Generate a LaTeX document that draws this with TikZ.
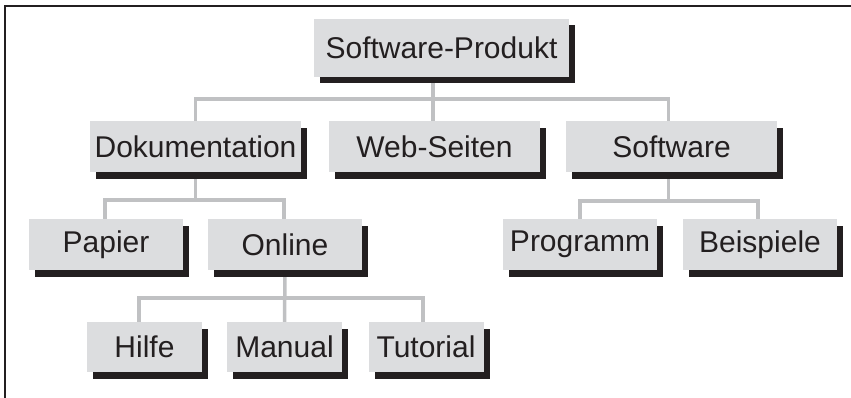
\documentclass[tikz,border=0pt]{standalone}
\usepackage{fontspec}
\setmainfont{Liberation Sans}
\usetikzlibrary{shadows,backgrounds,calc}
\definecolor{boxfill}{RGB}{220,221,223}
\definecolor{connc}{RGB}{192,193,195}
\definecolor{inkc}{RGB}{35,31,32}
\begin{document}
\begin{tikzpicture}[x=1pt,y=-1pt,
  tbox/.style={fill=boxfill, inner sep=0pt, text=inkc,
    font=\fontsize{30}{36}\selectfont,
    drop shadow={shadow xshift=6pt, shadow yshift=-6.5pt, fill=inkc, opacity=1}},
  lvA/.style={tbox, minimum width=211pt, minimum height=51pt},
  lvB/.style={tbox, minimum width=154pt, minimum height=51pt},
  lvC/.style={tbox, minimum width=115pt, minimum height=50pt},
  conn/.style={draw=connc, line width=3.5pt},
  frameline/.style={draw=inkc, line width=2pt}]
\useasboundingbox (0,0) rectangle (851,398);
\draw[frameline] (5,398) -- (5,6) -- (851,6);
\node[tbox, minimum width=255pt, minimum height=58pt] (sp) at (441.5,48) {Software-Produkt};
\node[lvA] (dok) at (195.5,147) {Dokumentation};
\node[lvA] (web) at (434.5,147) {Web-Seiten};
\node[lvA] (sw) at (671.5,147) {Software};
\node[lvB] (pap) at (106,244.5) {Papier};
\node[lvB] (onl) at (285,244.5) {Online};
\node[lvB] (prog) at (580,244.5) {Programm};
\node[lvB] (beis) at (760,244.5) {Beispiele};
\node[lvC] (hil) at (144.5,347) {Hilfe};
\node[lvC] (man) at (284.5,347) {Manual};
\node[lvC] (tut) at (426,347) {Tutorial};
\begin{scope}[on background layer]
  \draw[conn] ($(web.north)+(-1.5,0)$) -- ($(web.north |- sp.south)+(-1.5,0)$);
  \draw[conn] (dok.north) -- ++(0,-22.5) -| ($(sw.north)+(-3,0)$);
  \draw[conn] (dok.south) -- ++(0,27.5);
  \draw[conn] ($(pap.north)+(-1,0)$) -- ++(0,-19) -| ($(onl.north)+(-1,0)$);
  \draw[conn] ($(sw.south)+(-3,0)$) -- ++(0,29);
  \draw[conn] (prog.north) -- ++(0,-18) -| ($(beis.north)+(-2,0)$);
  \draw[conn] (onl.south) -- (man.north);
  \draw[conn] ($(hil.north)+(-5.5,0)$) -- ++(0,-24) -| ($(tut.north)+(-3,0)$);
\end{scope}
\end{tikzpicture}
\end{document}
